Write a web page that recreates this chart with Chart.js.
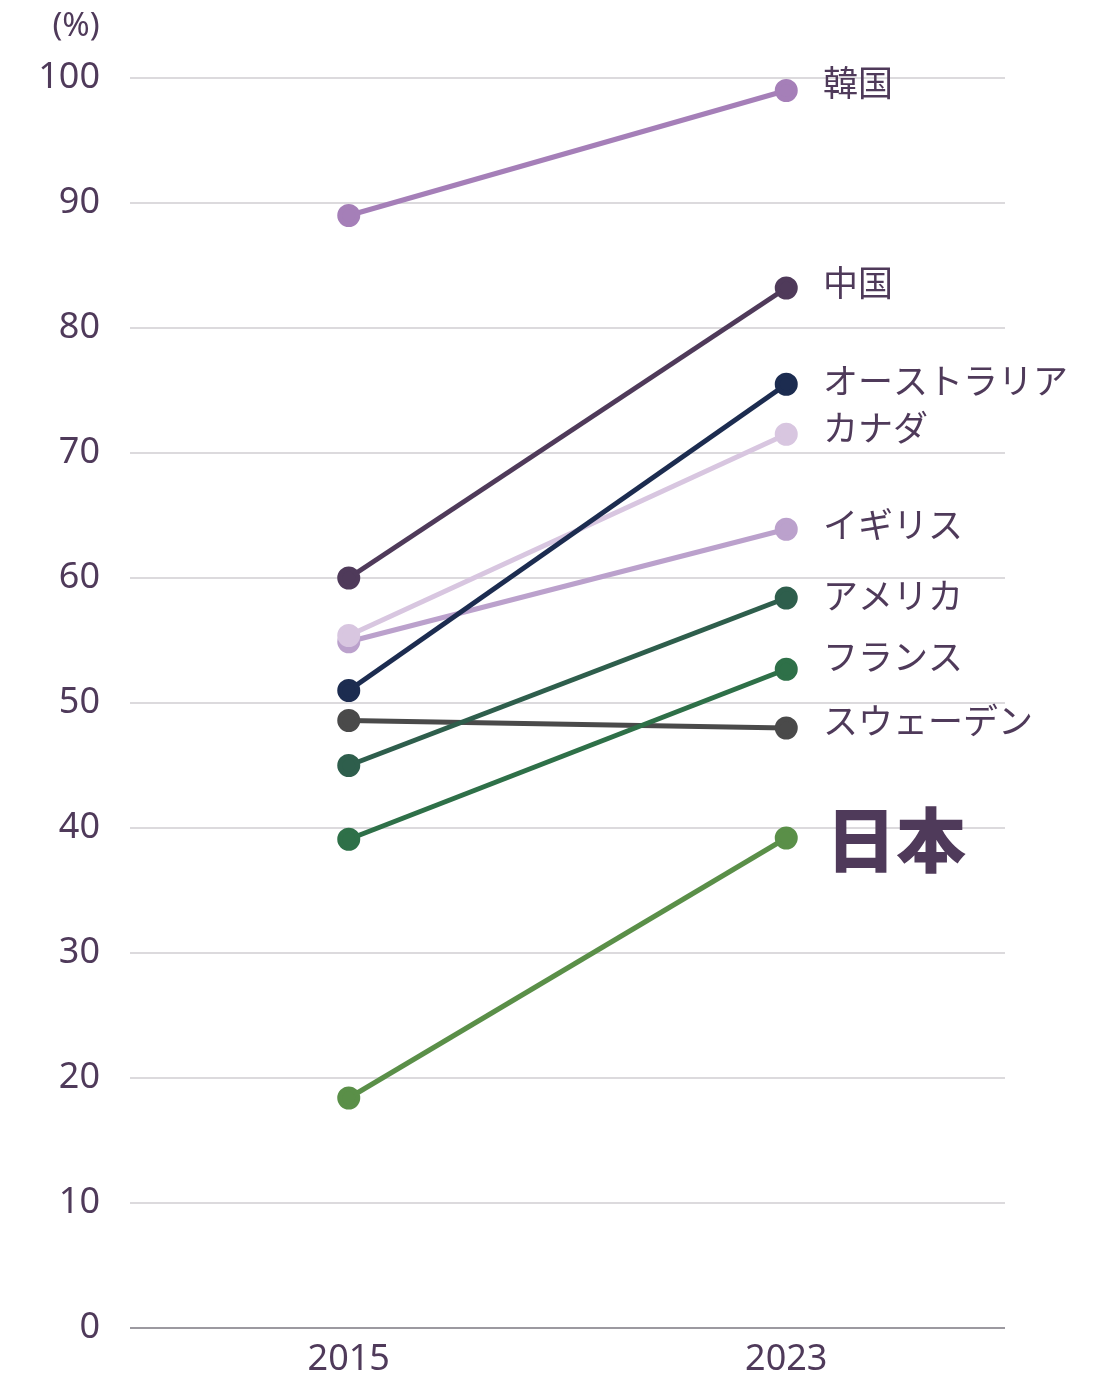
<!DOCTYPE html>
<html>
<head>
<meta charset="utf-8">
<script src="https://cdn.jsdelivr.net/npm/chart.js@4/dist/chart.umd.min.js"></script>
<style>
html,body{margin:0;padding:0;background:#fff;}
#wrap{width:1103px;height:1377px;position:relative;}
</style>
</head>
<body>
<div id="wrap"><canvas id="c"></canvas></div>
<script>
const years = ["2015", "2023"];
const countries = ["韓国", "中国", "オーストラリア", "カナダ", "イギリス", "アメリカ", "フランス", "スウェーデン", "日本"];
const korea = [89.0, 99.0];
const china = [60.0, 83.2];
const australia = [51.0, 75.5];
const canada = [55.4, 71.5];
const uk = [54.9, 63.9];
const usa = [45.0, 58.4];
const france = [39.1, 52.7];
const sweden = [48.6, 48.0];
const japan = [18.4, 39.2];
const seriesValues = [korea, china, australia, canada, uk, usa, france, sweden, japan];
const colors = ["#a57fb8", "#4f3a5a", "#1c2c50", "#d8c6e0", "#bba1cc", "#2e5e4c", "#2e7048", "#4a4a4a", "#5a8f48"];
// label anchor values (on the y scale) for the right-hand country names
const labelAnchors = [99.6, 83.6, 75.8, 72.0, 64.3, 58.6, 53.7, 48.6, 39.0];
const yTicks = [0, 10, 20, 30, 40, 50, 60, 70, 80, 90, 100];
const unitLabel = "(%)";

const textColor = "#4f3a5a";

const datasets = countries.map((name, i) => ({
  label: name,
  data: seriesValues[i],
  borderColor: colors[i],
  backgroundColor: colors[i],
  pointBackgroundColor: colors[i],
  pointBorderColor: colors[i],
  borderWidth: 5,
  pointRadius: 9,
  pointHoverRadius: 9,
  tension: 0
}));

const labelPlugin = {
  id: 'labels',
  afterDatasetsDraw(chart) {
    const ctx = chart.ctx;
    const y = chart.scales.y;
    ctx.save();
    ctx.fillStyle = textColor;
    ctx.textAlign = 'left';
    ctx.textBaseline = 'middle';
    countries.forEach((name, i) => {
      const isJapan = name === "日本";
      ctx.font = isJapan ? '900 70px "Noto Sans CJK JP"' : '400 35px "Noto Sans CJK JP"';
      ctx.fillText(name, isJapan ? 826 : 823, y.getPixelForValue(labelAnchors[i]));
    });
    ctx.font = '400 33px "Noto Sans", "Open Sans", sans-serif';
    ctx.textAlign = 'center';
    ctx.fillText(unitLabel, 76, 27);
    ctx.restore();
  }
};

new Chart(document.getElementById('c'), {
  type: 'line',
  data: { labels: years, datasets },
  options: {
    responsive: true,
    maintainAspectRatio: false,
    animation: false,
    layout: { padding: { top: 78, right: 98, bottom: 0, left: 0 } },
    plugins: { legend: { display: false }, tooltip: { enabled: false } },
    scales: {
      x: {
        type: 'category',
        offset: true,
        grid: { display: false, drawTicks: false },
        border: { display: false },
        ticks: {
          color: textColor,
          padding: 10,
          font: { family: '"Noto Sans", "Open Sans", sans-serif', size: 36 }
        },
        afterFit(scale) { scale.height = 49; }
      },
      y: {
        min: 0,
        max: 100,
        afterBuildTicks(scale) { scale.ticks = yTicks.map(v => ({ value: v })); },
        grid: {
          drawTicks: false,
          lineWidth: 2,
          color: ctx => ctx.tick && ctx.tick.value === 0 ? '#9c99a0' : '#dcdadd'
        },
        border: { display: false },
        ticks: {
          color: textColor,
          padding: 30,
          font: { family: '"Noto Sans", "Open Sans", sans-serif', size: 36, lineHeight: 1.05 }
        },
        afterFit(scale) { scale.width = 130; }
      }
    }
  },
  plugins: [labelPlugin]
});
</script>
</body>
</html>
